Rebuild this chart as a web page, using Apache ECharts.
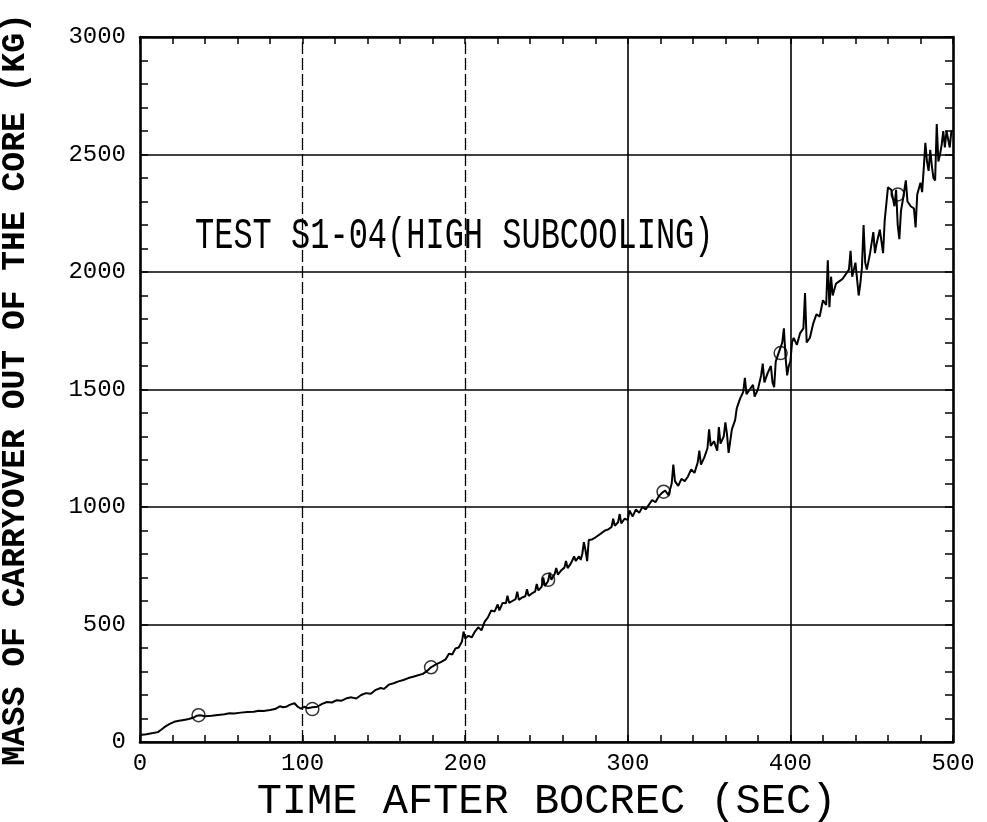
<!DOCTYPE html>
<html>
<head>
<meta charset="utf-8">
<script src="https://cdn.jsdelivr.net/npm/echarts@6/dist/echarts.min.js"></script>
<style>html,body{margin:0;padding:0;background:#fff}#c{width:987px;height:822px}</style>
</head>
<body>
<div id="c"></div>
<script>
// ---- data ----
const xTicks = [0, 100, 200, 300, 400, 500];
const yTicks = [0, 500, 1000, 1500, 2000, 2500, 3000];
const xGridDashed = [100, 200];
const xGridSolid = [300, 400];
const xTitle = 'TIME AFTER BOCREC (SEC)';
const yTitle = 'MASS OF CARRYOVER OUT OF THE CORE (KG)';
const annotation = 'TEST S1-04(HIGH SUBCOOLING)';

// time (s)
const carryTime = [
 0,4,8,11,13,15,18,21,24,27,30,33,35,37,40,44,48,52,55,58,62,66,70,73,76,80,83,86,88,90,92,95,97,99,101,103,106,
 109,112,115,118,121,124,127,130,133,136,139,142,145,148,150,153,156,159,162,165,168,171,174,177,179,182,185,188,190,192,194,196,198,199,200,
 202,204,206,208,210,212,214,216,218,220,221,223,225,226,227,229,231,232,233,235,237,238,239,241,243,244,245,247,248,249,251,252,253,255,256,257,259,261,262,263,265,267,268,270,271,272,273,274,275,276,278,280,282,284,286,288,290,291,292,294,295,296,298,300,
 301,303,305,307,309,311,313,315,317,319,321,323,325,327,328,329,331,333,335,337,339,341,343,344,345,347,349,350,351,353,355,356,357,359,360,361,362,364,366,367,369,371,372,373,375,377,378,380,382,383,384,386,388,389,390,391,393,395,396,397,398,399,400,
 401,402,404,406,408,409,410,412,414,416,418,420,422,423,424,425,426,428,430,432,434,436,437,438,440,442,443,444,445,446,447,449,451,452,453,455,457,458,460,462,464,465,466,467,468,469,471,472,474,476,477,478,480,481,482,483,484,485,486,487,488,489,490,491,492,493,494,495,496,497,498,499,500
];
// mass (kg)
const carryMass = [
 30,33,38,42,52,63,76,86,90,94,98,104,112,114,110,112,115,118,122,121,125,128,129,133,132,136,140,152,148,150,158,165,150,142,150,144,148,
 150,162,170,168,178,176,186,190,185,200,208,205,222,230,226,244,250,258,264,272,278,284,290,305,318,330,340,352,376,372,398,402,428,470,440,
 452,445,470,488,475,512,530,560,555,585,560,592,590,622,592,600,608,640,605,615,620,650,622,632,640,672,645,660,700,664,685,720,690,715,740,712,730,742,770,740,760,790,770,790,775,800,850,815,770,860,862,870,880,890,900,905,915,950,920,935,970,930,950,945,
 985,960,990,975,1000,990,1010,1030,1020,1045,1060,1070,1050,1100,1180,1110,1090,1120,1110,1130,1160,1145,1190,1240,1180,1210,1250,1330,1260,1280,1240,1340,1270,1300,1360,1310,1230,1330,1370,1420,1460,1490,1550,1480,1500,1520,1470,1500,1560,1610,1530,1570,1600,1530,1510,1620,1660,1700,1760,1640,1560,1600,1620,
 1700,1720,1690,1740,1760,1910,1700,1720,1780,1820,1810,1880,1860,2050,1850,1980,1900,1950,1960,1970,1990,2010,2090,1980,2040,1900,1950,2020,2200,2040,2010,2080,2170,2080,2120,2180,2080,2220,2360,2350,2280,2350,2200,2140,2260,2300,2390,2300,2280,2270,2190,2330,2380,2340,2440,2550,2470,2430,2520,2450,2400,2390,2630,2470,2500,2540,2600,2530,2600,2600,2530,2600,2600
];
// circle marker positions
const markerTime = [36, 106, 179, 251, 322, 394, 466];
const markerMass = [114, 140, 318, 690, 1065, 1655, 2330];

// ---- chart ----
const lineData = carryTime.map((t, i) => [t, carryMass[i]]);
const markerData = markerTime.map((t, i) => [t, markerMass[i]]);
const tickFont = { fontFamily: 'Liberation Mono', fontSize: 24, color: '#000' };
const frameLine = { show: true, onZero: false, lineStyle: { color: '#000', width: 2.6 } };

const chart = echarts.init(document.getElementById('c'), null, { renderer: 'canvas' });
chart.setOption({
  backgroundColor: '#fff',
  animation: false,
  grid: { left: 140, right: 34, top: 37, bottom: 80, containLabel: false, outerBoundsMode: 'none' },
  xAxis: [{
    type: 'value', min: xTicks[0], max: xTicks[xTicks.length - 1], interval: 100,
    position: 'bottom',
    axisLine: frameLine,
    axisTick: { show: true, inside: true, length: 7, lineStyle: { color: '#000', width: 1.5 } },
    minorTick: { show: true, splitNumber: 5, length: 7, lineStyle: { color: '#000', width: 1.5 } },
    splitLine: { show: false },
    axisLabel: Object.assign({ margin: 10, formatter: v => String(v) }, tickFont),
    name: xTitle, nameLocation: 'middle', nameGap: 38,
    nameTextStyle: { fontFamily: 'Liberation Mono', fontSize: 42, color: '#000' }
  }, {
    type: 'value', min: xTicks[0], max: xTicks[xTicks.length - 1], interval: 100,
    position: 'top',
    axisLine: frameLine,
    axisTick: { show: true, inside: true, length: 7, lineStyle: { color: '#000', width: 1.5 } },
    minorTick: { show: true, splitNumber: 5, length: 7, lineStyle: { color: '#000', width: 1.5 } },
    splitLine: { show: false },
    axisLabel: { show: false }
  }],
  yAxis: [{
    type: 'value', min: yTicks[0], max: yTicks[yTicks.length - 1], interval: 500,
    position: 'left',
    axisLine: frameLine,
    axisTick: { show: true, inside: true, length: 8, lineStyle: { color: '#000', width: 1.5 } },
    minorTick: { show: true, splitNumber: 5, length: 8, lineStyle: { color: '#000', width: 1.5 } },
    splitLine: { show: true, lineStyle: { color: '#000', width: 1.6 } },
    axisLabel: Object.assign({ margin: 14, formatter: v => String(v) }, tickFont),
    name: yTitle, nameLocation: 'middle', nameGap: 108, nameRotate: 90,
    nameTextStyle: { fontFamily: 'Liberation Mono', fontWeight: 'bold', fontSize: 33, color: '#000' }
  }, {
    type: 'value', min: yTicks[0], max: yTicks[yTicks.length - 1], interval: 500,
    position: 'right',
    axisLine: frameLine,
    axisTick: { show: true, inside: true, length: 8, lineStyle: { color: '#000', width: 1.5 } },
    minorTick: { show: true, splitNumber: 5, length: 8, lineStyle: { color: '#000', width: 1.5 } },
    splitLine: { show: false },
    axisLabel: { show: false }
  }],
  graphic: [{
    type: 'text', left: 195, top: 214, scaleY: 1.4,
    style: { text: annotation, fontFamily: 'Liberation Mono', fontSize: 32, fill: '#000' }
  }],
  series: [{
    type: 'line', xAxisIndex: 0, yAxisIndex: 0,
    data: lineData, showSymbol: false, symbol: 'none',
    lineStyle: { color: '#000', width: 2 },
    markLine: {
      silent: true, symbol: 'none', label: { show: false },
      data: xGridDashed.map(v => ({ xAxis: v, lineStyle: { color: '#000', width: 1.3, type: [12, 4] } }))
        .concat(xGridSolid.map(v => ({ xAxis: v, lineStyle: { color: '#000', width: 1.6, type: 'solid' } })))
    }
  }, {
    type: 'scatter', xAxisIndex: 0, yAxisIndex: 0,
    data: markerData, symbol: 'circle', symbolSize: 13,
    itemStyle: { color: 'rgba(255,255,255,0)', borderColor: '#000', borderWidth: 1.5 }
  }]
});
</script>
</body>
</html>
